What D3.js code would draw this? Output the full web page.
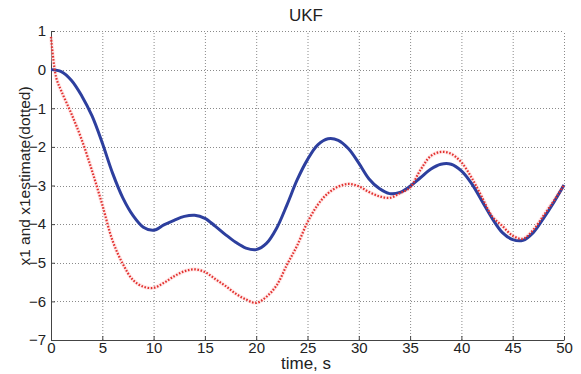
<!DOCTYPE html>
<html>
<head>
<meta charset="utf-8">
<script src="https://cdn.jsdelivr.net/npm/d3@7"></script>
<style>
  body { margin: 0; background: #fff; }
  svg text { font-family: Arial, "Liberation Sans", sans-serif; fill: #222; }
</style>
</head>
<body>
<svg id="chart" width="581" height="374"></svg>
<script>
// time samples (s)
const timeTrue = d3.range(0, 51, 1);
const x1True = [0.00, -0.05, -0.28, -0.68, -1.20, -1.90, -2.68, -3.32, -3.78, -4.08,
  -4.16, -4.02, -3.90, -3.80, -3.77, -3.85, -4.05, -4.27, -4.47, -4.62,
  -4.66, -4.50, -4.10, -3.50, -2.85, -2.33, -1.95, -1.79, -1.83, -2.05,
  -2.42, -2.83, -3.08, -3.21, -3.18, -3.02, -2.80, -2.58, -2.45, -2.45,
  -2.62, -2.95, -3.40, -3.85, -4.22, -4.40, -4.42, -4.22, -3.85, -3.44, -2.99];

const timeEst = [0, 0.5, 1, 2, 3, 4, 5, 6, 7, 8, 9, 10, 11, 12, 13, 14, 15, 16, 17, 18, 19,
  20, 21, 22, 23, 24, 25, 26, 27, 28, 29, 30, 31, 32, 33, 34, 35, 36, 37, 38, 39,
  40, 41, 42, 43, 44, 45, 46, 47, 48, 49, 50];
const x1Est = [0.85, -0.20, -0.55, -1.15, -1.82, -2.62, -3.50, -4.43, -5.03, -5.45, -5.62,
  -5.65, -5.52, -5.35, -5.22, -5.17, -5.24, -5.42, -5.60, -5.80, -5.95,
  -6.04, -5.88, -5.58, -5.05, -4.55, -3.95, -3.50, -3.20, -3.03, -2.96,
  -3.02, -3.17, -3.28, -3.32, -3.20, -3.05, -2.60, -2.24, -2.13, -2.18,
  -2.40, -2.80, -3.30, -3.80, -4.05, -4.30, -4.38, -4.15, -3.78, -3.40, -2.99];

const xTicks = d3.range(0, 51, 5);
const yTicks = d3.range(-7, 2, 1);

const margin = {top: 31, right: 17, bottom: 34, left: 51};
const width = 581, height = 374;

const svg = d3.select("#chart");

/*** scales */
const x = d3.scaleLinear().domain([0, 50]).range([margin.left, width - margin.right]);
const y = d3.scaleLinear().domain([-7, 1]).range([height - margin.bottom, margin.top]);

/*** dotted grid */
const grid = svg.append("g")
  .attr("stroke", "#8a8a8a")
  .attr("stroke-width", 1)
  .attr("stroke-dasharray", "1,2");
grid.selectAll(".gx").data(xTicks.slice(1)).join("line")
  .attr("x1", d => x(d) + 0.5).attr("x2", d => x(d) + 0.5)
  .attr("y1", y(-7)).attr("y2", y(1));
grid.selectAll(".gy").data(yTicks.slice(1)).join("line")
  .attr("y1", d => Math.round(y(d)) + 0.5).attr("y2", d => Math.round(y(d)) + 0.5)
  .attr("x1", x(0)).attr("x2", x(50));

/*** axes (ticks point inward) */
const xAxis = g => g
  .attr("transform", `translate(0,${y(-7)})`)
  .call(d3.axisBottom(x).tickValues(xTicks).tickSizeInner(-4).tickSizeOuter(0).tickPadding(2))
  .call(g => g.selectAll("text").attr("font-size", "15px"));

const yAxis = g => g
  .attr("transform", `translate(${x(0)},0)`)
  .call(d3.axisLeft(y).tickValues(yTicks).tickSizeInner(-4).tickSizeOuter(0).tickPadding(5))
  .call(g => g.selectAll("text").attr("font-size", "15px"));

svg.append("g").call(xAxis);
svg.append("g").call(yAxis);
svg.selectAll(".domain").attr("stroke", "#444");
svg.selectAll(".tick line").attr("stroke", "#444");
svg.selectAll(".tick text").attr("fill", "#222");

/*** curves */
const line = d3.line().curve(d3.curveCatmullRom.alpha(0.5))
  .x(d => x(d[0])).y(d => y(d[1]));

svg.append("path")
  .datum(d3.zip(timeEst, x1Est))
  .attr("fill", "none")
  .attr("stroke", "#ffd6d6")
  .attr("stroke-width", 4)
  .attr("opacity", 0.5)
  .attr("d", line);

svg.append("path")
  .datum(d3.zip(timeTrue, x1True))
  .attr("fill", "none")
  .attr("stroke", "#2d3f9e")
  .attr("stroke-width", 3)
  .attr("d", line);

svg.append("path")
  .datum(d3.zip(timeEst, x1Est))
  .attr("fill", "none")
  .attr("stroke", "#e2312f")
  .attr("stroke-width", 2.2)
  .attr("stroke-dasharray", "1.6,1.6")
  .attr("d", line);

/*** labels */
svg.append("text")
  .attr("x", 306).attr("y", 21)
  .attr("text-anchor", "middle")
  .attr("font-size", "17px")
  .text("UKF");

svg.append("text")
  .attr("x", 306).attr("y", 369)
  .attr("text-anchor", "middle")
  .attr("font-size", "17px")
  .text("time, s");

svg.append("text")
  .attr("transform", "translate(30,176) rotate(-90)")
  .attr("text-anchor", "middle")
  .attr("font-size", "15.5px")
  .text("x1 and x1estimate(dotted)");
</script>
</body>
</html>
